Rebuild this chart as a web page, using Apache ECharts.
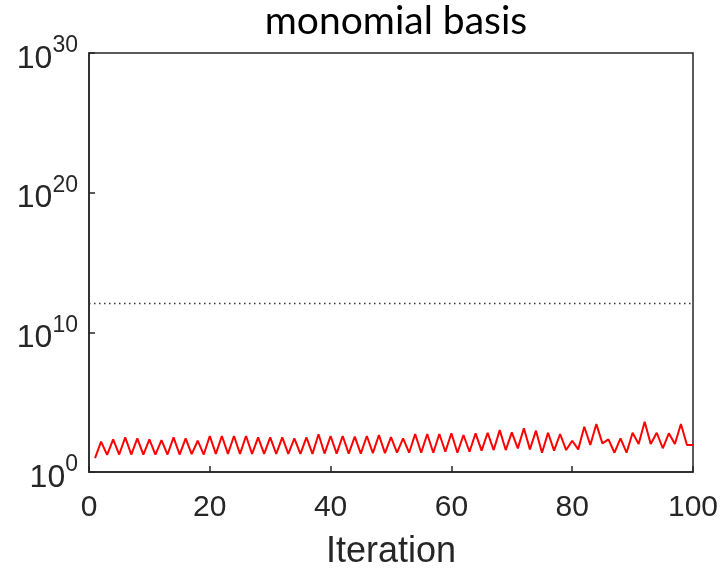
<!DOCTYPE html>
<html>
<head>
<meta charset="utf-8">
<script src="https://cdn.jsdelivr.net/npm/echarts@6/dist/echarts.min.js"></script>
<style>
  html, body { margin: 0; padding: 0; background: #fff; }
  #chart { width: 721px; height: 571px; }
</style>
</head>
<body>
<div id="chart"></div>
<script>
// iteration numbers (x)
const iterations = [
  1, 2, 3, 4, 5, 6, 7, 8, 9, 10, 11, 12, 13, 14, 15, 16, 17, 18, 19, 20,
  21, 22, 23, 24, 25, 26, 27, 28, 29, 30, 31, 32, 33, 34, 35, 36, 37, 38, 39, 40,
  41, 42, 43, 44, 45, 46, 47, 48, 49, 50, 51, 52, 53, 54, 55, 56, 57, 58, 59, 60,
  61, 62, 63, 64, 65, 66, 67, 68, 69, 70, 71, 72, 73, 74, 75, 76, 77, 78, 79, 80,
  81, 82, 83, 84, 85, 86, 87, 88, 89, 90, 91, 92, 93, 94, 95, 96, 97, 98, 99, 100
];
// exponent (log10) of the red curve
const redExponents = [
  1.00, 2.17, 1.22, 2.34, 1.25, 2.48, 1.25, 2.41, 1.25, 2.34,
  1.25, 2.29, 1.25, 2.48, 1.25, 2.41, 1.28, 2.24, 1.25, 2.58,
  1.30, 2.58, 1.30, 2.58, 1.30, 2.58, 1.30, 2.48, 1.30, 2.48,
  1.30, 2.48, 1.30, 2.41, 1.30, 2.48, 1.30, 2.70, 1.32, 2.58,
  1.32, 2.58, 1.32, 2.53, 1.32, 2.58, 1.35, 2.65, 1.35, 2.50,
  1.38, 2.41, 1.38, 2.72, 1.38, 2.72, 1.38, 2.72, 1.45, 2.77,
  1.38, 2.65, 1.45, 2.77, 1.53, 2.81, 1.57, 3.00, 1.57, 2.84,
  1.69, 3.13, 1.62, 2.96, 1.38, 2.81, 1.53, 2.72, 1.57, 2.24,
  1.62, 3.24, 1.93, 3.43, 2.05, 2.34, 1.38, 2.41, 1.38, 2.81,
  2.00, 3.60, 2.00, 2.81, 1.70, 2.77, 2.00, 3.44, 1.93, 1.93
];
// dotted reference level (exponent)
const thresholdExponent = 12.1;
// y tick exponents: 10^0 .. 10^30
const yTickExponents = [0, 10, 20, 30];
const xTicks = [0, 20, 40, 60, 80, 100];

const textColor = '#262626';
const labelFont = '"Liberation Sans", Arial, Helvetica, sans-serif';

const option = {
  backgroundColor: '#fff',
  animation: false,
  title: {
    text: 'monomial basis',
    left: 391,
    top: -3,
    textAlign: 'center',
    textStyle: {
      fontFamily: 'Lato, "Open Sans", sans-serif',
      fontWeight: 'normal',
      fontSize: 39,
      color: '#000'
    }
  },
  grid: {
    left: 89,
    right: 28,
    top: 53,
    bottom: 99,
    outerBoundsMode: 'none',
    containLabel: false,
    show: true,
    borderColor: textColor,
    borderWidth: 1.5,
    backgroundColor: '#fff'
  },
  xAxis: {
    type: 'value',
    min: 0,
    max: 100,
    interval: 20,
    name: 'Iteration',
    nameLocation: 'middle',
    nameGap: 62,
    nameTextStyle: { fontFamily: labelFont, fontSize: 36, color: textColor },
    axisLine: { show: true, lineStyle: { color: textColor, width: 1.5 } },
    axisTick: { show: true, inside: true, length: 6, lineStyle: { color: textColor, width: 1.5 } },
    axisLabel: {
      margin: 21,
      fontFamily: labelFont,
      fontSize: 30,
      color: textColor,
      formatter: v => (xTicks.includes(v) ? String(v) : '')
    },
    splitLine: { show: false }
  },
  yAxis: {
    type: 'value',
    min: 0,
    max: 30,
    interval: 10,
    axisLine: { show: true, lineStyle: { color: textColor, width: 1.5 } },
    axisTick: { show: true, inside: true, length: 6, lineStyle: { color: textColor, width: 1.5 } },
    axisLabel: {
      margin: 11,
      formatter: v => (yTickExponents.includes(v) ? '{b|10}{s|' + v + '}' : ''),
      rich: {
        b: { fontFamily: labelFont, fontSize: 32, color: textColor, padding: [12, 0, 0, 0] },
        s: { fontFamily: labelFont, fontSize: 23, color: textColor, padding: [0, 0, 14, 0] }
      }
    },
    splitLine: { show: false }
  },
  series: [
    {
      type: 'line',
      data: iterations.map((it, i) => [it, redExponents[i]]),
      showSymbol: false,
      lineStyle: { color: '#ff0000', width: 2 },
      itemStyle: { color: '#ff0000' },
      markLine: {
        silent: true,
        symbol: ['none', 'none'],
        label: { show: false },
        lineStyle: { color: '#333', type: [1.5, 3.5], width: 1.3 },
        data: [{ yAxis: thresholdExponent }]
      }
    }
  ]
};

const myChart = echarts.init(document.getElementById('chart'));
myChart.setOption(option);
</script>
</body>
</html>
